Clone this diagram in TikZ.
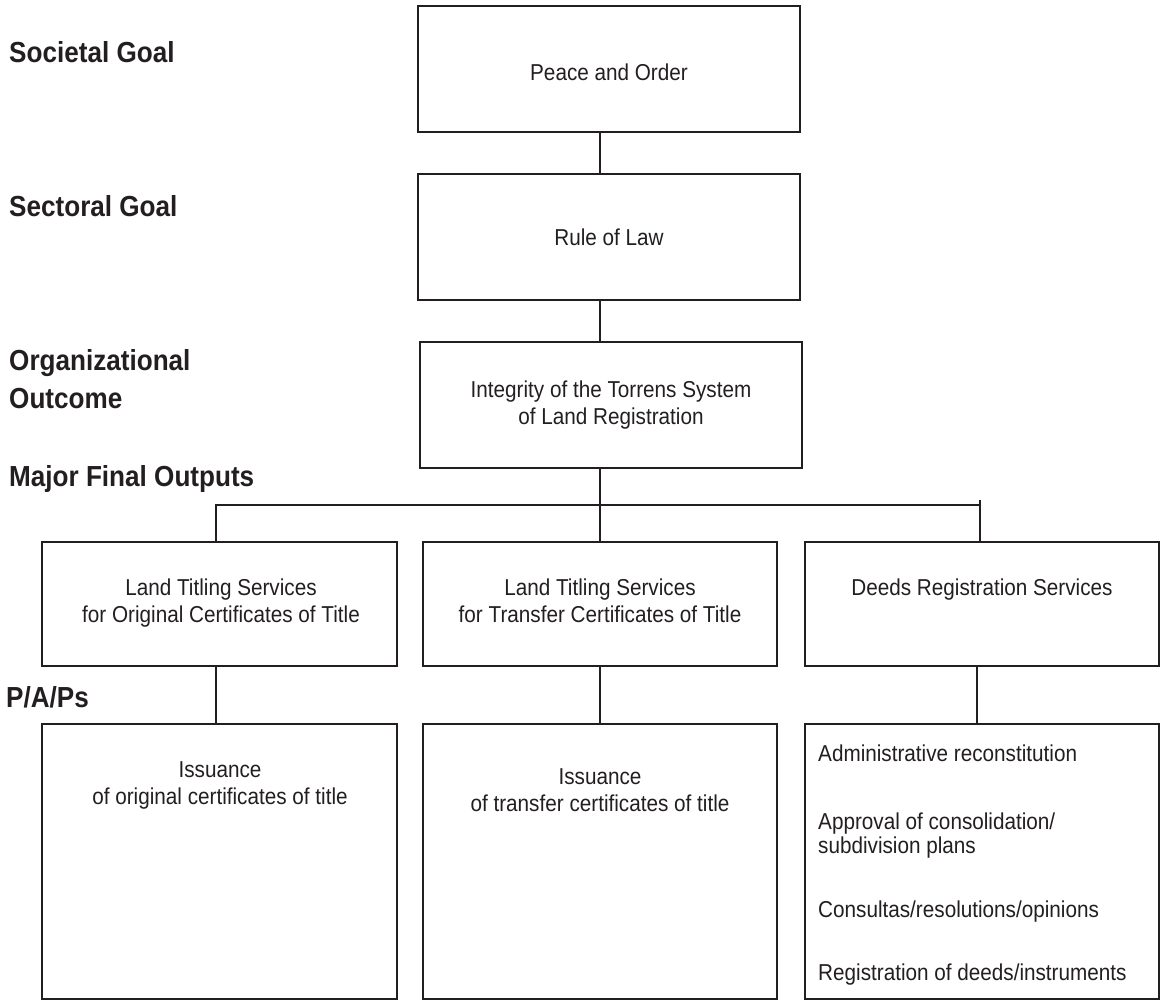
\documentclass[tikz,border=0pt]{standalone}
\usepackage{fontspec}
\setmainfont[FakeStretch=0.9]{Liberation Sans}
\definecolor{ink}{HTML}{231F20}
\begin{document}
\begin{tikzpicture}[x=1pt,y=-1pt,
  box/.style={draw=ink, line width=2.2pt, inner sep=0pt},
  conn/.style={draw=ink, line width=1.8pt},
  lab/.style={anchor=base west, inner sep=0pt, font=\fontsize{29}{34}\selectfont\bfseries, text=ink},
  txt/.style={anchor=base, inner sep=0pt, font=\fontsize{23}{27}\selectfont, text=ink},
  ltxt/.style={anchor=base west, inner sep=0pt, font=\fontsize{23}{27}\selectfont, text=ink}]
\useasboundingbox[fill=white] (0,0) rectangle (1161,1001);

% level labels
\node[lab] (l1) at (9,62) {Societal Goal};
\node[lab] (l2) at (9,216) {Sectoral Goal};
\node[lab] (l3a) at (9,370) {Organizational};
\node[lab] (l3b) at (9,408) {Outcome};
\node[lab] (l4) at (9,486) {Major Final Outputs};
\node[lab] (l5) at (6,707) {P/A/Ps};

% top chain boxes
\node[box, minimum width=382pt, minimum height=126pt] (peace) at (609,69) {};
\node[box, minimum width=382pt, minimum height=126pt] (rule) at (609,237) {};
\node[box, minimum width=382pt, minimum height=126pt] (integ) at (611,405) {};
\node[txt] (peaceT) at (609,80) {Peace and Order};
\node[txt] (ruleT) at (609,245) {Rule of Law};
\node[txt] (integT1) at (611,397) {Integrity of the Torrens System};
\node[txt] (integT2) at (611,424) {of Land Registration};

% major final outputs
\node[box, minimum width=355pt, minimum height=124pt] (mfoL) at (219.5,604) {};
\node[box, minimum width=354pt, minimum height=124pt] (mfoM) at (600,604) {};
\node[box, minimum width=354pt, minimum height=124pt] (mfoR) at (982,604) {};
\node[txt] (mfoL1) at (221,595) {Land Titling Services};
\node[txt] (mfoL2) at (221,622) {for Original Certificates of Title};
\node[txt] (mfoM1) at (600,595) {Land Titling Services};
\node[txt] (mfoM2) at (600,622) {for Transfer Certificates of Title};
\node[txt] (mfoR1) at (982,595) {Deeds Registration Services};

% P/A/Ps
\node[box, minimum width=355pt, minimum height=275pt] (papL) at (219.5,861.5) {};
\node[box, minimum width=354pt, minimum height=275pt] (papM) at (600,861.5) {};
\node[box, minimum width=354pt, minimum height=275pt] (papR) at (982,861.5) {};
\node[txt] (papL1) at (220,777) {Issuance};
\node[txt] (papL2) at (220,804) {of original certificates of title};
\node[txt] (papM1) at (600,784) {Issuance};
\node[txt] (papM2) at (600,811) {of transfer certificates of title};
\node[ltxt] (papR1) at (818,761) {Administrative reconstitution};
\node[ltxt] (papR2) at (818,829) {Approval of consolidation/};
\node[ltxt] (papR3) at (818,853) {subdivision plans};
\node[ltxt] (papR4) at (818,917) {Consultas/resolutions/opinions};
\node[ltxt] (papR5) at (818,980) {Registration of deeds/instruments};

% connectors
\coordinate (trunk) at (600,0);
\coordinate (busL) at (216,505);
\coordinate (busR) at (979,505);
\coordinate (tickT) at (980,500);
\coordinate (rdrop) at (977,0);
\draw[conn] (peace.south -| trunk) -- (rule.north -| trunk);
\draw[conn] (rule.south -| trunk) -- (integ.north -| trunk);
\draw[conn] (integ.south -| trunk) -- (mfoM.north);
\draw[conn] (mfoL.north -| busL) -- (busL) -- (busR);
\draw[conn] (tickT) -- (tickT |- mfoR.north);
\draw[conn] (mfoL.south -| busL) -- (papL.north -| busL);
\draw[conn] (mfoM.south) -- (papM.north);
\draw[conn] (mfoR.south -| rdrop) -- (papR.north -| rdrop);
\end{tikzpicture}
\end{document}
